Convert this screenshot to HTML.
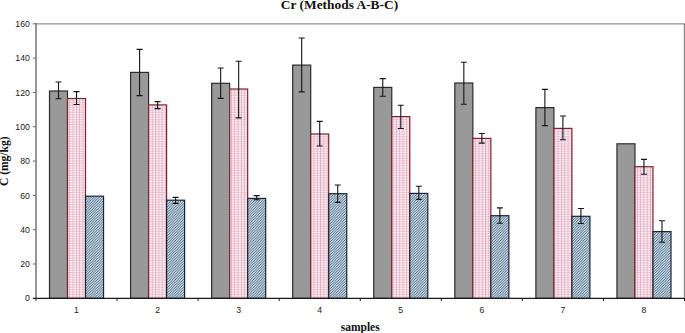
<!DOCTYPE html>
<html><head><meta charset="utf-8"><title>Cr (Methods A-B-C)</title>
<style>
html,body{margin:0;padding:0;background:#fff;}
body{width:685px;height:333px;overflow:hidden;}
svg{display:block;}
.t{font-family:"Liberation Sans",Arial,sans-serif;font-size:8.7px;fill:#222;}
.b{font-family:"Liberation Serif","Times New Roman",serif;font-weight:bold;font-size:11.5px;fill:#111;}
.h{font-size:13.4px;}
</style></head><body>
<svg width="685" height="333" viewBox="0 0 685 333">
<defs>
<pattern id="pr" width="3.3" height="1.7" patternUnits="userSpaceOnUse">
<rect width="3.3" height="1.7" fill="#fef2f5"/>
<rect x="0" y="0" width="3.3" height="0.7" fill="#e58a9e" fill-opacity="0.5"/>
<rect x="0" y="0" width="0.9" height="1.7" fill="#b58ab8" fill-opacity="0.5"/>
</pattern>
<pattern id="pb" width="2.6" height="2.6" patternUnits="userSpaceOnUse">
<rect width="2.6" height="2.6" fill="#c9dfee"/>
<path d="M-0.65,0.65 L0.65,-0.65 M0,2.6 L2.6,0 M1.95,3.25 L3.25,1.95" stroke="#3a4c62" stroke-width="0.85"/>
</pattern>
</defs>
<rect width="685" height="333" fill="#fff"/>

<line x1="36.0" y1="23.8" x2="685" y2="23.8" stroke="#8f8f8f" stroke-width="1.25"/>
<line x1="684.5" y1="23.8" x2="684.5" y2="298.3" stroke="#8a8a8a" stroke-width="1.4"/>
<rect x="49.51" y="91.00" width="18.01" height="207.30" fill="#999999" stroke="#2b2b2b" stroke-width="1.2"/>
<rect x="67.52" y="98.50" width="18.01" height="199.80" fill="url(#pr)" stroke="#7d2530" stroke-width="1.2"/>
<rect x="85.54" y="196.20" width="18.01" height="102.10" fill="url(#pb)" stroke="#1c2430" stroke-width="1.2"/>
<path d="M58.52,82.00 V98.80 M55.52,82.00 H61.52 M55.52,98.80 H61.52" stroke="#151515" stroke-width="1.1" fill="none"/>
<path d="M76.53,91.60 V104.50 M73.53,91.60 H79.53 M73.53,104.50 H79.53" stroke="#151515" stroke-width="1.1" fill="none"/>
<rect x="130.57" y="72.40" width="18.01" height="225.90" fill="#999999" stroke="#2b2b2b" stroke-width="1.2"/>
<rect x="148.59" y="104.90" width="18.01" height="193.40" fill="url(#pr)" stroke="#7d2530" stroke-width="1.2"/>
<rect x="166.60" y="200.20" width="18.01" height="98.10" fill="url(#pb)" stroke="#1c2430" stroke-width="1.2"/>
<path d="M139.58,49.40 V95.60 M136.58,49.40 H142.58 M136.58,95.60 H142.58" stroke="#151515" stroke-width="1.1" fill="none"/>
<path d="M157.59,101.60 V108.60 M154.59,101.60 H160.59 M154.59,108.60 H160.59" stroke="#151515" stroke-width="1.1" fill="none"/>
<path d="M175.61,197.40 V203.40 M172.61,197.40 H178.61 M172.61,203.40 H178.61" stroke="#151515" stroke-width="1.1" fill="none"/>
<rect x="211.64" y="83.30" width="18.01" height="215.00" fill="#999999" stroke="#2b2b2b" stroke-width="1.2"/>
<rect x="229.65" y="89.00" width="18.01" height="209.30" fill="url(#pr)" stroke="#7d2530" stroke-width="1.2"/>
<rect x="247.66" y="198.40" width="18.01" height="99.90" fill="url(#pb)" stroke="#1c2430" stroke-width="1.2"/>
<path d="M220.64,68.00 V98.40 M217.64,68.00 H223.64 M217.64,98.40 H223.64" stroke="#151515" stroke-width="1.1" fill="none"/>
<path d="M238.66,61.20 V117.90 M235.66,61.20 H241.66 M235.66,117.90 H241.66" stroke="#151515" stroke-width="1.1" fill="none"/>
<path d="M256.67,195.60 V199.80 M253.67,195.60 H259.67 M253.67,199.80 H259.67" stroke="#151515" stroke-width="1.1" fill="none"/>
<rect x="292.70" y="65.10" width="18.01" height="233.20" fill="#999999" stroke="#2b2b2b" stroke-width="1.2"/>
<rect x="310.71" y="134.00" width="18.01" height="164.30" fill="url(#pr)" stroke="#7d2530" stroke-width="1.2"/>
<rect x="328.73" y="193.70" width="18.01" height="104.60" fill="url(#pb)" stroke="#1c2430" stroke-width="1.2"/>
<path d="M301.70,38.00 V91.90 M298.70,38.00 H304.70 M298.70,91.90 H304.70" stroke="#151515" stroke-width="1.1" fill="none"/>
<path d="M319.72,121.40 V146.00 M316.72,121.40 H322.72 M316.72,146.00 H322.72" stroke="#151515" stroke-width="1.1" fill="none"/>
<path d="M337.73,185.00 V202.40 M334.73,185.00 H340.73 M334.73,202.40 H340.73" stroke="#151515" stroke-width="1.1" fill="none"/>
<rect x="373.76" y="87.40" width="18.01" height="210.90" fill="#999999" stroke="#2b2b2b" stroke-width="1.2"/>
<rect x="391.77" y="116.60" width="18.01" height="181.70" fill="url(#pr)" stroke="#7d2530" stroke-width="1.2"/>
<rect x="409.79" y="193.40" width="18.01" height="104.90" fill="url(#pb)" stroke="#1c2430" stroke-width="1.2"/>
<path d="M382.77,78.60 V96.20 M379.77,78.60 H385.77 M379.77,96.20 H385.77" stroke="#151515" stroke-width="1.1" fill="none"/>
<path d="M400.78,105.20 V128.50 M397.78,105.20 H403.78 M397.78,128.50 H403.78" stroke="#151515" stroke-width="1.1" fill="none"/>
<path d="M418.80,186.20 V199.40 M415.80,186.20 H421.80 M415.80,199.40 H421.80" stroke="#151515" stroke-width="1.1" fill="none"/>
<rect x="454.82" y="83.00" width="18.01" height="215.30" fill="#999999" stroke="#2b2b2b" stroke-width="1.2"/>
<rect x="472.84" y="138.40" width="18.01" height="159.90" fill="url(#pr)" stroke="#7d2530" stroke-width="1.2"/>
<rect x="490.85" y="215.70" width="18.01" height="82.60" fill="url(#pb)" stroke="#1c2430" stroke-width="1.2"/>
<path d="M463.83,62.30 V104.20 M460.83,62.30 H466.83 M460.83,104.20 H466.83" stroke="#151515" stroke-width="1.1" fill="none"/>
<path d="M481.84,133.50 V143.10 M478.84,133.50 H484.84 M478.84,143.10 H484.84" stroke="#151515" stroke-width="1.1" fill="none"/>
<path d="M499.86,207.90 V223.20 M496.86,207.90 H502.86 M496.86,223.20 H502.86" stroke="#151515" stroke-width="1.1" fill="none"/>
<rect x="535.89" y="107.60" width="18.01" height="190.70" fill="#999999" stroke="#2b2b2b" stroke-width="1.2"/>
<rect x="553.90" y="128.40" width="18.01" height="169.90" fill="url(#pr)" stroke="#7d2530" stroke-width="1.2"/>
<rect x="571.91" y="216.30" width="18.01" height="82.00" fill="url(#pb)" stroke="#1c2430" stroke-width="1.2"/>
<path d="M544.89,89.40 V125.60 M541.89,89.40 H547.89 M541.89,125.60 H547.89" stroke="#151515" stroke-width="1.1" fill="none"/>
<path d="M562.91,116.00 V139.80 M559.91,116.00 H565.91 M559.91,139.80 H565.91" stroke="#151515" stroke-width="1.1" fill="none"/>
<path d="M580.92,208.50 V223.50 M577.92,208.50 H583.92 M577.92,223.50 H583.92" stroke="#151515" stroke-width="1.1" fill="none"/>
<rect x="616.95" y="143.80" width="18.01" height="154.50" fill="#999999" stroke="#2b2b2b" stroke-width="1.2"/>
<rect x="634.96" y="166.70" width="18.01" height="131.60" fill="url(#pr)" stroke="#7d2530" stroke-width="1.2"/>
<rect x="652.98" y="231.60" width="18.01" height="66.70" fill="url(#pb)" stroke="#1c2430" stroke-width="1.2"/>
<path d="M643.97,159.40 V174.20 M640.97,159.40 H646.97 M640.97,174.20 H646.97" stroke="#151515" stroke-width="1.1" fill="none"/>
<path d="M661.98,220.80 V242.20 M658.98,220.80 H664.98 M658.98,242.20 H664.98" stroke="#151515" stroke-width="1.1" fill="none"/>
<line x1="36.0" y1="23.1" x2="36.0" y2="300.90000000000003" stroke="#858585" stroke-width="1.7"/>
<line x1="32.8" y1="298.3" x2="685" y2="298.3" stroke="#1a1a1a" stroke-width="1.3"/>
<text class="t" x="29.8" y="301.45" text-anchor="end">0</text>
<line x1="32.8" y1="263.99" x2="36.0" y2="263.99" stroke="#6a6a6a" stroke-width="1"/>
<text class="t" x="29.8" y="267.14" text-anchor="end">20</text>
<line x1="32.8" y1="229.68" x2="36.0" y2="229.68" stroke="#6a6a6a" stroke-width="1"/>
<text class="t" x="29.8" y="232.83" text-anchor="end">40</text>
<line x1="32.8" y1="195.36" x2="36.0" y2="195.36" stroke="#6a6a6a" stroke-width="1"/>
<text class="t" x="29.8" y="198.51" text-anchor="end">60</text>
<line x1="32.8" y1="161.05" x2="36.0" y2="161.05" stroke="#6a6a6a" stroke-width="1"/>
<text class="t" x="29.8" y="164.20" text-anchor="end">80</text>
<line x1="32.8" y1="126.74" x2="36.0" y2="126.74" stroke="#6a6a6a" stroke-width="1"/>
<text class="t" x="29.8" y="129.89" text-anchor="end">100</text>
<line x1="32.8" y1="92.43" x2="36.0" y2="92.43" stroke="#6a6a6a" stroke-width="1"/>
<text class="t" x="29.8" y="95.58" text-anchor="end">120</text>
<line x1="32.8" y1="58.11" x2="36.0" y2="58.11" stroke="#6a6a6a" stroke-width="1"/>
<text class="t" x="29.8" y="61.26" text-anchor="end">140</text>
<line x1="32.8" y1="23.80" x2="36.0" y2="23.80" stroke="#6a6a6a" stroke-width="1"/>
<text class="t" x="29.8" y="26.95" text-anchor="end">160</text>
<line x1="117.06" y1="298.3" x2="117.06" y2="301.1" stroke="#1a1a1a" stroke-width="1"/>
<line x1="198.12" y1="298.3" x2="198.12" y2="301.1" stroke="#1a1a1a" stroke-width="1"/>
<line x1="279.19" y1="298.3" x2="279.19" y2="301.1" stroke="#1a1a1a" stroke-width="1"/>
<line x1="360.25" y1="298.3" x2="360.25" y2="301.1" stroke="#1a1a1a" stroke-width="1"/>
<line x1="441.31" y1="298.3" x2="441.31" y2="301.1" stroke="#1a1a1a" stroke-width="1"/>
<line x1="522.38" y1="298.3" x2="522.38" y2="301.1" stroke="#1a1a1a" stroke-width="1"/>
<line x1="603.44" y1="298.3" x2="603.44" y2="301.1" stroke="#1a1a1a" stroke-width="1"/>
<line x1="684.50" y1="298.3" x2="684.50" y2="301.1" stroke="#1a1a1a" stroke-width="1"/>
<text class="t" x="76.53" y="313.3" text-anchor="middle">1</text>
<text class="t" x="157.59" y="313.3" text-anchor="middle">2</text>
<text class="t" x="238.66" y="313.3" text-anchor="middle">3</text>
<text class="t" x="319.72" y="313.3" text-anchor="middle">4</text>
<text class="t" x="400.78" y="313.3" text-anchor="middle">5</text>
<text class="t" x="481.84" y="313.3" text-anchor="middle">6</text>
<text class="t" x="562.91" y="313.3" text-anchor="middle">7</text>
<text class="t" x="643.97" y="313.3" text-anchor="middle">8</text>
<text class="b h" x="339.5" y="9.2" text-anchor="middle">Cr (Methods A-B-C)</text>
<text class="b" x="360.2" y="330.7" text-anchor="middle">samples</text>
<text class="b" transform="translate(8.4,161.3) rotate(-90)" text-anchor="middle">C (mg/kg)</text>
</svg></body></html>
